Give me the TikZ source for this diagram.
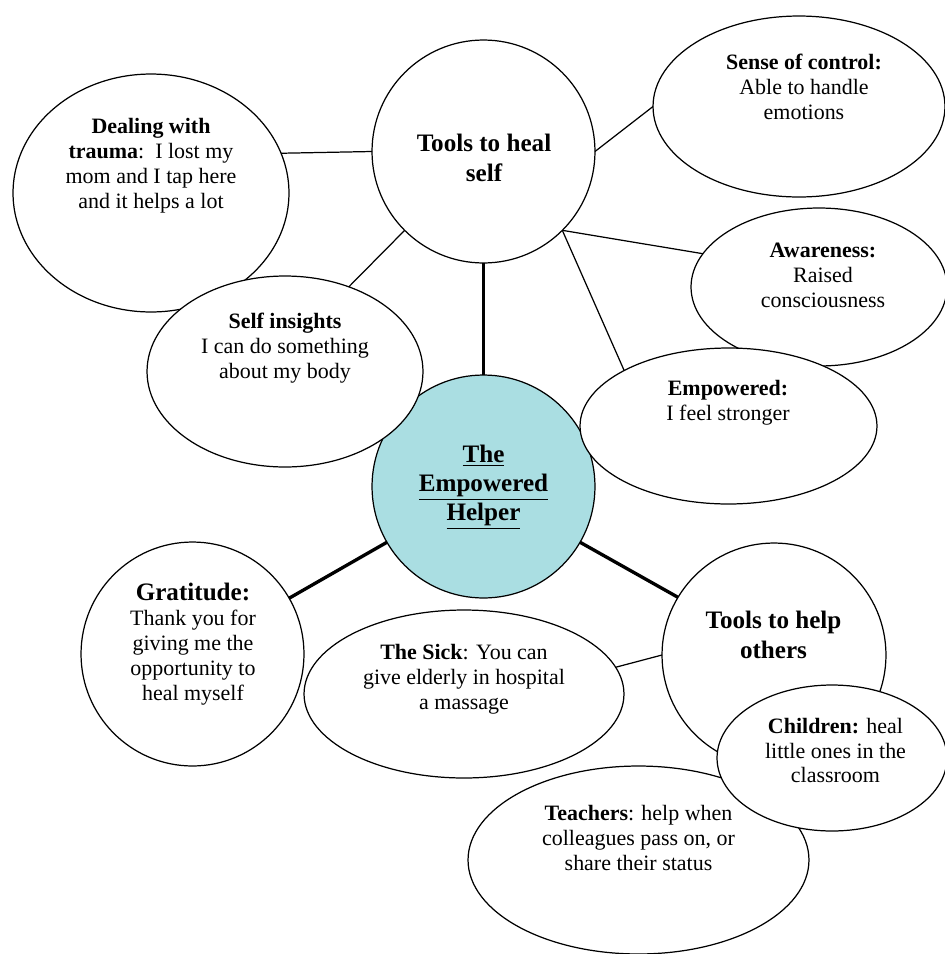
\documentclass[tikz,border=0pt]{standalone}
\usepackage{fontspec}
\setmainfont{Liberation Serif}
\usetikzlibrary{shapes.geometric}
\definecolor{helperblue}{RGB}{170,222,226}
\newcommand{\bodysize}{\fontsize{12.5}{14.2}\selectfont}
\newcommand{\headsize}{\fontsize{14.3}{17}\selectfont}

\begin{document}
\begin{tikzpicture}[x=0.02cm,y=-0.02cm,
  bubble/.style={ellipse, draw, fill=white, line width=0.7pt, inner sep=0pt, outer sep=0pt},
  txt/.style={align=center, font=\bodysize, inner sep=0pt},
  head/.style={align=center, font=\headsize\bfseries, inner sep=0pt},
  thinlink/.style={line width=0.7pt},
  thicklink/.style={line width=1.9pt}]
\useasboundingbox (0,0) rectangle (945,954);
% bubbles
\node[bubble, minimum width=5.52cm, minimum height=4.76cm] (trauma) at (151,193) {};
\node[bubble, minimum width=4.46cm, minimum height=4.46cm] (heal) at (483.5,151.5) {};
\node[bubble, fill=helperblue, minimum width=4.46cm, minimum height=4.46cm] (helper) at (483.5,486.5) {};
\node[bubble, minimum width=5.52cm, minimum height=3.82cm] (insights) at (285,371.5) {};
\node[bubble, minimum width=5.84cm, minimum height=3.62cm] (sense) at (799,106.5) {};
\node[bubble, minimum width=5.12cm, minimum height=3.16cm] (aware) at (819,287) {};
\node[bubble, minimum width=5.94cm, minimum height=3.12cm] (empow) at (728.5,426) {};
\node[bubble, minimum width=4.46cm, minimum height=4.48cm] (grat) at (192.5,654) {};
\node[bubble, minimum width=6.4cm, minimum height=3.36cm] (sick) at (464,694) {};
\node[bubble, minimum width=4.48cm, minimum height=4.48cm] (others) at (774,655) {};
\node[bubble, minimum width=6.82cm, minimum height=3.76cm] (teachers) at (638.5,860) {};
\node[bubble, minimum width=4.6cm, minimum height=2.92cm] (children) at (832,758) {};
% texts
\node[txt] (traumaTxt) at (151,165.5) {\textbf{Dealing with}\\\textbf{trauma}:\ \ I lost my\\mom and I tap here\\and it helps a lot};
\node[head] (healTxt) at (484,158) {Tools to heal\\self};
\node[head, font=\fontsize{14.3}{16.5}\selectfont\bfseries] (helperTxt) at (483.5,487) {\underline{The}\\\underline{Empowered}\\\underline{Helper}};
\node[txt] (insightsTxt) at (285,348) {\textbf{Self insights}\\I can do something\\about my body};
\node[txt] (senseTxt) at (804,87) {\textbf{Sense of control:}\\Able to handle\\emotions};
\node[txt] (awareTxt) at (823,275.5) {\textbf{Awareness:}\\Raised\\consciousness};
\node[txt] (empowTxt) at (728,402.5) {\textbf{Empowered:}\\I feel stronger};
\node[txt] (gratTxt) at (193,644) {{\headsize\bfseries Gratitude:}\\Thank you for\\giving me the\\opportunity to\\heal myself};
\node[txt] (sickTxt) at (464,679) {\textbf{The Sick}: You can\\give elderly in hospital\\a massage};
\node[head] (othersTxt) at (773.5,635) {Tools to help\\others};
\node[txt] (childrenTxt) at (835.5,750.5) {\textbf{Children:} heal\\little ones in the\\classroom};
\node[txt] (teachersTxt) at (638.5,838) {\textbf{Teachers}: help when\\colleagues pass on, or\\share their status};
% links
\draw[thinlink] (heal.west) -- (trauma.17.6);
\draw[thinlink] (heal.225) -- (insights.53);
\draw[thinlink] (heal.east) -- (sense.west);
\draw[thinlink] (heal.-45) -- (aware.164.7);
\draw[thinlink] (heal.-45) -- (empow.152.6);
\draw[thinlink] (sick.10) -- (others.west);
\draw[thicklink] (heal.south) -- (helper.north);
\draw[thicklink] (helper.210.5) -- (grat.30);
\draw[thicklink] (helper.-30.3) -- (others.149.6);
\end{tikzpicture}
\end{document}
